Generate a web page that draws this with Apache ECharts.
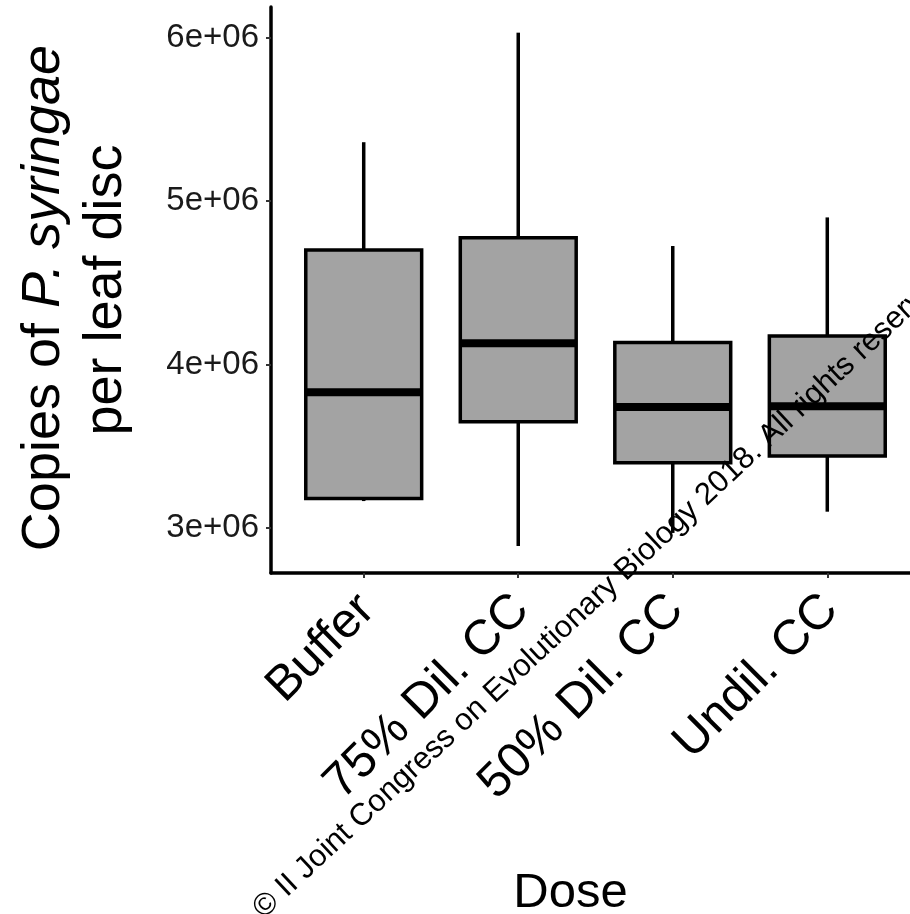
<!DOCTYPE html>
<html>
<head>
    <meta charset="utf-8">
    <script src="https://cdn.jsdelivr.net/npm/echarts@6/dist/echarts.min.js"></script>
    <style type="text/css">
        html, body { margin: 0; padding: 0; background: #fff; }
    </style>
</head>
<body>
    <div id="main" style="width: 910px;height:914px;"></div>
    <script type="text/javascript">
        // values (copies per leaf disc)
        var categories = ['Buffer', '75% Dil. CC', '50% Dil. CC', 'Undil. CC'];
        var whiskerLow = [3165000, 2890000, 2970000, 3100000];
        var q1 = [3180000, 3650000, 3400000, 3440000];
        var median = [3830000, 4130000, 3740000, 3745000];
        var q3 = [4700000, 4775000, 4135000, 4175000];
        var whiskerHigh = [5360000, 6030000, 4725000, 4900000];
        var yTicks = [3000000, 4000000, 5000000, 6000000];
        var xTicks = [1, 2, 3, 4];

        var boxData = [];
        for (var i = 0; i < categories.length; i++) {
            boxData.push([i + 1, whiskerLow[i], q1[i], median[i], q3[i], whiskerHigh[i]]);
        }

        var myChart = echarts.init(document.getElementById('main'));

        function renderBox(params, api) {
            var x = api.value(0);
            var lo = api.coord([x, api.value(1)]);
            var b1 = api.coord([x, api.value(2)]);
            var md = api.coord([x, api.value(3)]);
            var b3 = api.coord([x, api.value(4)]);
            var hi = api.coord([x, api.value(5)]);
            var half = api.size([0.75, 0])[0] / 2;
            var cx = lo[0];
            return {
                type: 'group',
                children: [{
                    type: 'line',
                    shape: { x1: cx, y1: hi[1], x2: cx, y2: b3[1] },
                    style: { stroke: '#000', lineWidth: 3.5 }
                }, {
                    type: 'line',
                    shape: { x1: cx, y1: b1[1], x2: cx, y2: lo[1] },
                    style: { stroke: '#000', lineWidth: 3.5 }
                }, {
                    type: 'rect',
                    shape: { x: cx - half, y: b3[1], width: half * 2, height: b1[1] - b3[1] },
                    style: { fill: '#a3a3a3', stroke: '#000', lineWidth: 3.5 }
                }, {
                    type: 'line',
                    shape: { x1: cx - half, y1: md[1], x2: cx + half, y2: md[1] },
                    style: { stroke: '#000', lineWidth: 8 }
                }]
            };
        }

        var option = {
            backgroundColor: '#fff',
            animation: false,
            grid: { left: 271, right: -10, top: 7, bottom: 341, containLabel: false, outerBoundsMode: 'none' },
            xAxis: {
                type: 'value',
                min: 0.4,
                max: 4.6,
                name: 'Dose',
                nameLocation: 'middle',
                nameGap: 296,
                nameTextStyle: {
                    fontFamily: 'Liberation Sans', fontSize: 49, color: '#000',
                    padding: [0, 50, 0, 0]
                },
                splitLine: { show: false },
                axisLine: { show: true, lineStyle: { color: '#000', width: 3.5 } },
                axisTick: { show: true, customValues: xTicks, length: 5, lineStyle: { color: '#333', width: 2 } },
                axisLabel: {
                    customValues: xTicks,
                    formatter: function (v) { return categories[v - 1]; },
                    rotate: 45,
                    align: 'right',
                    verticalAlign: 'top',
                    margin: -2,
                    padding: [0, 20, 0, 0],
                    fontFamily: 'Liberation Sans',
                    fontSize: 49,
                    color: '#000'
                }
            },
            yAxis: {
                type: 'value',
                min: 2725000,
                max: 6187000,
                name: '{n|Copies of }{i|P. syringae}\n{n|per leaf disc}',
                nameLocation: 'middle',
                nameRotate: 90,
                nameGap: 134,
                nameTextStyle: {
                    fontFamily: 'Liberation Sans', fontSize: 54, color: '#000', lineHeight: 62,
                    rich: {
                        n: { fontFamily: 'Liberation Sans', fontSize: 54, color: '#000', lineHeight: 62 },
                        i: { fontFamily: 'Liberation Sans', fontSize: 54, color: '#000', lineHeight: 62, fontStyle: 'italic', padding: [0, 16, 0, 0] }
                    }
                },
                splitLine: { show: false },
                axisLine: { show: true, lineStyle: { color: '#000', width: 3.5 } },
                axisTick: { show: true, customValues: yTicks, length: 5, lineStyle: { color: '#333', width: 2 } },
                axisLabel: {
                    customValues: yTicks,
                    formatter: function (v) { return Math.round(v / 1000000) + 'e+06'; },
                    margin: 12,
                    fontFamily: 'Liberation Sans',
                    fontSize: 33,
                    color: '#1a1a1a'
                }
            },
            graphic: [{
                type: 'text',
                x: 258,
                y: 913,
                rotation: 43 * Math.PI / 180,
                z: 100,
                style: {
                    text: '\u00a9 II Joint Congress on Evolutionary Biology 2018. All rights reserved',
                    fontFamily: 'Liberation Sans',
                    fontSize: 31,
                    fill: '#000',
                    align: 'left',
                    verticalAlign: 'middle'
                }
            }],
            series: [{
                type: 'custom',
                renderItem: renderBox,
                encode: { x: 0, y: [1, 2, 3, 4, 5] },
                data: boxData
            }]
        };

        myChart.setOption(option);
    </script>
</body>
</html>
